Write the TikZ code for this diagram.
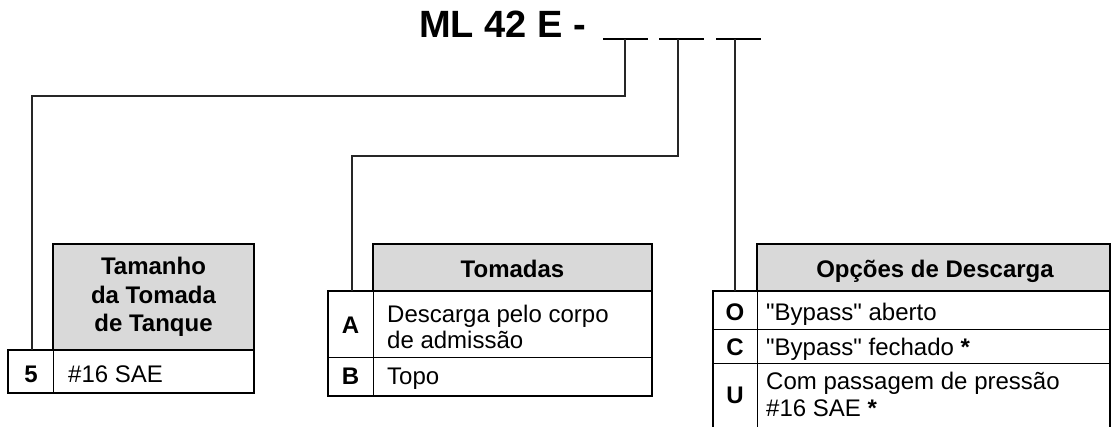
\documentclass[tikz,border=0pt]{standalone}
\usepackage{fontspec}
\setmainfont{Liberation Sans}
\definecolor{hdrgray}{HTML}{D9D9D9}
\begin{document}
\begin{tikzpicture}[x=1pt,y=-1pt,
  outer/.style={line width=2pt,draw=black},
  inner/.style={line width=1pt,draw=black},
  conn/.style={line width=1.3pt,draw=black!85},
  hdr/.style={fill=hdrgray,line width=2pt,draw=black},
  body/.style={font=\fontsize{24}{27}\selectfont,inner sep=0pt,anchor=base west,align=left},
  key/.style={font=\fontsize{24}{27}\selectfont\bfseries,inner sep=0pt,anchor=base},
  htext/.style={font=\fontsize{24}{28.5}\selectfont\bfseries,inner sep=0pt,align=center}]
\useasboundingbox (0,0) rectangle (1111,426);
\clip (0,0) rectangle (1111,426);
% title
\node[font=\fontsize{38}{40}\selectfont\bfseries,inner sep=0pt,anchor=base west] (title) at (419,37) {ML 42 E -};
\draw[line width=1.5pt] (603,39) coordinate (u1a) -- (648,39) coordinate (u1b);
\draw[line width=1.5pt] (659,39) coordinate (u2a) -- (704,39) coordinate (u2b);
\draw[line width=1.5pt] (716,39) coordinate (u3a) -- (761,39) coordinate (u3b);
\coordinate (s1) at (625,39);
\coordinate (s2) at (678,39);
\coordinate (s3) at (735,39);
% table 1
\draw[hdr] (53,244) rectangle (254,350);
\node[htext] (h1) at (153.5,297) {Tamanho\\da Tomada\\de Tanque};
\draw[outer] (8,350) rectangle (254,393);
\draw[inner] (53,350) -- (53,393);
\coordinate (t1) at (32,350);
\node[key] (k5) at (31,382) {5};
\node[body] (v5) at (68,382) {\#16 SAE};
% table 2
\draw[hdr] (373,244) rectangle (652,291);
\node[htext,anchor=base] (h2) at (512.5,277) {Tomadas};
\draw[outer] (328,291) rectangle (652,396);
\draw[inner] (328,357) -- (652,357);
\draw[inner] (373,291) -- (373,396);
\coordinate (t2) at (352,291);
\node[key] (kA) at (350.5,333) {A};
\node[body] (vA1) at (387,322) {Descarga pelo corpo};
\node[body] (vA2) at (387,348) {de admissão};
\node[key] (kB) at (350.5,384) {B};
\node[body] (vB) at (387,384) {Topo};
% table 3
\draw[hdr] (757,244) rectangle (1110,291);
\node[htext,anchor=base] (h3) at (935,277) {Opções de Descarga};
\draw[outer] (713,291) rectangle (1110,440);
\draw[inner] (713,329) -- (1111,329);
\draw[inner] (713,363) -- (1111,363);
\draw[inner] (757,291) -- (757,440);
\coordinate (t3) at (735,291);
\node[key] (kO) at (735,320) {O};
\node[body] (vO) at (766,320) {\textquotedbl Bypass\textquotedbl{} aberto};
\node[body] (vC) at (766,355) {\textquotedbl Bypass\textquotedbl{} fechado \textbf{*}};
\node[key] (kC) at (735,355) {C};
\node[key] (kU) at (735,403) {U};
\node[body] (vU1) at (766,389) {Com passagem de pressão};
\node[body] (vU2) at (766,416) {\#16 SAE \textbf{*}};
% connectors
\draw[conn] (s1) |- (32,96) -- (t1);
\draw[conn] (s2) |- (352,156) -- (t2);
\draw[conn] (s3) -- (t3);
\end{tikzpicture}
\end{document}
